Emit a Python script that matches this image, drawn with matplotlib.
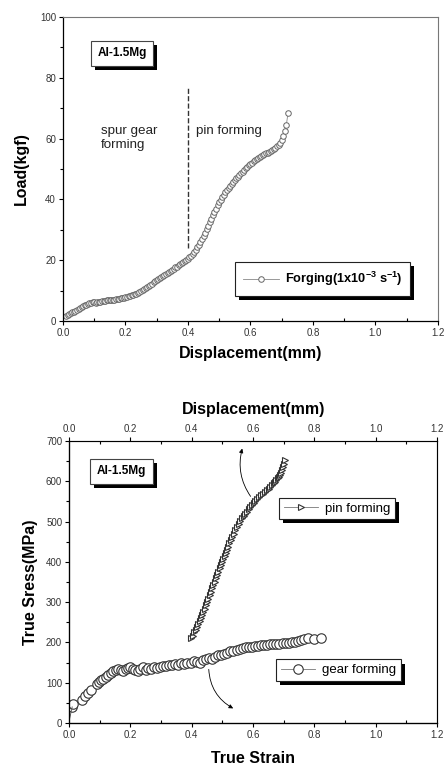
import matplotlib
matplotlib.use("Agg")
import matplotlib.pyplot as plt
import matplotlib.patheffects as pe
from matplotlib.ticker import MultipleLocator

plt.rcParams['font.family'] = ['Liberation Sans', 'DejaVu Sans']
plt.rcParams['mathtext.fontset'] = 'custom'
plt.rcParams['mathtext.bf'] = 'Liberation Sans:bold'
plt.rcParams['mathtext.rm'] = 'Liberation Sans'

# top panel: load vs displacement
disp = [0.010, 0.015, 0.020, 0.025, 0.030, 0.035, 0.040, 0.045, 0.050, 0.055,
        0.060, 0.065, 0.070, 0.075, 0.080, 0.085, 0.090, 0.095, 0.100, 0.105,
        0.110, 0.115, 0.120, 0.125, 0.130, 0.135, 0.140, 0.145, 0.150, 0.155,
        0.160, 0.165, 0.170, 0.175, 0.180, 0.185, 0.190, 0.195, 0.200, 0.205,
        0.210, 0.215, 0.220, 0.225, 0.230, 0.235, 0.240, 0.245, 0.250, 0.255,
        0.260, 0.265, 0.270, 0.275, 0.280, 0.285, 0.290, 0.295, 0.300, 0.305,
        0.310, 0.315, 0.320, 0.325, 0.330, 0.335, 0.340, 0.345, 0.350, 0.355,
        0.360, 0.365, 0.370, 0.375, 0.380, 0.385, 0.390, 0.395, 0.400, 0.405,
        0.410, 0.415, 0.420, 0.425, 0.430, 0.435, 0.440, 0.445, 0.450, 0.455,
        0.460, 0.465, 0.470, 0.475, 0.480, 0.485, 0.490, 0.495, 0.500, 0.505,
        0.510, 0.515, 0.520, 0.525, 0.530, 0.535, 0.540, 0.545, 0.550, 0.555,
        0.560, 0.565, 0.570, 0.575, 0.580, 0.585, 0.590, 0.595, 0.600, 0.605,
        0.610, 0.615, 0.620, 0.625, 0.630, 0.635, 0.640, 0.645, 0.650, 0.655,
        0.660, 0.665, 0.670, 0.675, 0.680, 0.685, 0.690, 0.695, 0.700, 0.705,
        0.710, 0.715, 0.720]
load = [1.8, 2.0, 2.3, 2.6, 2.9, 3.1, 3.4, 3.7, 4.0, 4.3,
        4.6, 4.9, 5.1, 5.4, 5.6, 5.8, 6.0, 6.2, 6.2, 6.0,
        6.1, 6.2, 6.3, 6.5, 6.6, 6.7, 6.8, 6.9, 7.0, 7.0,
        7.0, 7.0, 7.1, 7.2, 7.3, 7.4, 7.5, 7.6, 7.8, 7.9,
        8.1, 8.2, 8.4, 8.6, 8.8, 9.0, 9.3, 9.6, 9.9, 10.2,
        10.6, 10.9, 11.3, 11.6, 12.0, 12.3, 12.7, 13.0, 13.4, 13.7,
        14.1, 14.4, 14.8, 15.1, 15.5, 15.8, 16.2, 16.5, 16.9, 17.2,
        17.6, 17.9, 18.3, 18.6, 19.0, 19.3, 19.7, 20.1, 20.5, 21.0,
        21.5, 22.1, 22.7, 23.4, 24.2, 25.1, 26.0, 27.0, 28.0, 29.1,
        30.2, 31.3, 32.5, 33.6, 34.8, 35.9, 37.0, 38.0, 39.0, 39.9,
        40.7, 41.5, 42.3, 43.0, 43.7, 44.4, 45.1, 45.7, 46.3, 46.9,
        47.5, 48.1, 48.6, 49.1, 49.7, 50.2, 50.7, 51.2, 51.6, 52.0,
        52.5, 52.9, 53.3, 53.7, 54.1, 54.4, 54.7, 54.9, 55.1, 55.3,
        55.5, 55.8, 56.1, 56.5, 56.9, 57.4, 57.9, 58.6, 59.5, 61.0,
        62.5, 64.5, 68.3]

# bottom panel: true stress vs true strain
pin_strain = [0.398, 0.403, 0.408, 0.413, 0.417, 0.421, 0.426, 0.430, 0.434, 0.438,
              0.442, 0.446, 0.450, 0.454, 0.458, 0.462, 0.466, 0.470, 0.475, 0.479,
              0.483, 0.487, 0.491, 0.495, 0.499, 0.503, 0.507, 0.511, 0.515, 0.519,
              0.523, 0.528, 0.532, 0.537, 0.542, 0.548, 0.553, 0.558, 0.564, 0.569,
              0.575, 0.580, 0.586, 0.591, 0.597, 0.602, 0.607, 0.613, 0.618, 0.625,
              0.632, 0.639, 0.646, 0.651, 0.656, 0.662, 0.667, 0.671, 0.676, 0.680,
              0.684, 0.688, 0.692, 0.695, 0.699, 0.702, 0.705]
pin_stress = [210, 217, 225, 232, 239, 246, 254, 261, 268, 276,
              284, 293, 301, 309, 317, 326, 334, 342, 350, 359,
              367, 375, 384, 392, 400, 407, 414, 422, 429, 437,
              446, 454, 462, 470, 478, 487, 495, 501, 508, 514,
              520, 525, 531, 536, 541, 546, 551, 556, 561, 565,
              569, 574, 578, 582, 586, 591, 595, 599, 603, 607,
              611, 615, 621, 627, 635, 644, 654]

gear_strain = [0.010, 0.014, 0.042, 0.052, 0.060, 0.072, 0.092, 0.098, 0.105, 0.112,
               0.120, 0.128, 0.136, 0.144, 0.152, 0.160, 0.168, 0.176, 0.184, 0.192,
               0.200, 0.208, 0.216, 0.224, 0.232, 0.240, 0.250, 0.258, 0.266, 0.276,
               0.286, 0.296, 0.306, 0.316, 0.326, 0.336, 0.346, 0.356, 0.366, 0.376,
               0.386, 0.396, 0.406, 0.416, 0.426, 0.436, 0.446, 0.456, 0.466, 0.476,
               0.486, 0.496, 0.506, 0.516, 0.526, 0.536, 0.546, 0.556, 0.566, 0.576,
               0.586, 0.596, 0.606, 0.616, 0.626, 0.636, 0.646, 0.656, 0.666, 0.676,
               0.686, 0.696, 0.706, 0.716, 0.726, 0.736, 0.746, 0.756, 0.766, 0.780,
               0.798, 0.820]
gear_stress = [40, 48, 58, 66, 74, 81, 97, 103, 106, 110,
               115, 120, 125, 128, 131, 133, 131, 128, 133, 136,
               139, 135, 131, 128, 134, 138, 132, 137, 133, 139,
               136, 140, 142, 141, 144, 143, 146, 145, 148, 146,
               150, 148, 154, 152, 150, 156, 158, 162, 160, 165,
               168, 170, 172, 175, 178, 180, 181, 184, 186, 188,
               189, 188, 190, 191, 193, 194, 194, 195, 196, 196,
               197, 198, 198, 199, 200, 201, 203, 205, 208, 212,
               208, 212]

x_ticks = [0.0, 0.2, 0.4, 0.6, 0.8, 1.0, 1.2]
shadow = [pe.SimplePatchShadow(offset=(3, -3), shadow_rgbFace='k', alpha=1), pe.Normal()]

fig = plt.figure(figsize=(4.46, 7.69), dpi=100)


def style_axis(ax, ymajor, yminor):
    ax.set_xlim(0, 1.2)
    ax.set_xticks(x_ticks)
    ax.xaxis.set_minor_locator(MultipleLocator(0.1))
    ax.yaxis.set_major_locator(MultipleLocator(ymajor))
    ax.yaxis.set_minor_locator(MultipleLocator(yminor))
    ax.tick_params(which='major', direction='out', length=3, width=0.8,
                   labelsize=7, labelcolor='#333333', pad=2)
    ax.tick_params(axis='x', which='minor', direction='in', length=2.5, width=0.8)
    ax.tick_params(axis='y', which='minor', direction='out', length=2, width=0.8)
    for s in ['top', 'right']:
        ax.spines[s].set_color('#777777')
    for s in ['left', 'bottom']:
        ax.spines[s].set_linewidth(0.9)


def label_box(ax, x, y, fs):
    t = ax.text(x, y, 'Al-1.5Mg', transform=ax.transAxes, fontsize=fs,
                fontweight='bold', ha='center', va='center',
                bbox=dict(boxstyle='square,pad=0.55', fc='white', ec='#444444', lw=0.8))
    t.get_bbox_patch().set_path_effects(shadow)


# ---- top panel
ax1 = fig.add_axes([0.141, 0.5826, 0.841, 0.3953])
ax1.plot(disp, load, '-', color='#888888', lw=0.6, marker='o', ms=4.0,
         mfc='white', mec='#666666', mew=0.7, label=r'Forging(1x10$^{\mathbf{-3}}$ s$^{\mathbf{-1}}$)')
ax1.set_ylim(0, 100)
style_axis(ax1, 20, 10)
ax1.plot([0.4, 0.4], [24, 76.5], '--', color='#333333', lw=1.0)
ax1.text(0.122, 64.5, 'spur gear\nforming', fontsize=9.6, va='top', ha='left', color='#222222')
ax1.text(0.427, 64.5, 'pin forming', fontsize=9.6, va='top', ha='left', color='#222222')
ax1.set_xlabel('Displacement(mm)', fontsize=11.5, fontweight='bold', labelpad=6)
ax1.set_ylabel('Load(kgf)', fontsize=11.5, fontweight='bold', labelpad=8)
label_box(ax1, 0.158, 0.88, 8.5)
leg1 = ax1.legend(loc='upper left', bbox_to_anchor=(0.442, 0.214), fancybox=False,
                  edgecolor='#222222', framealpha=1, handlelength=2.8,
                  prop={'weight': 'bold', 'size': 9.2}, borderpad=0.6, handletextpad=0.5)
leg1.get_frame().set_linewidth(0.8)
leg1.get_frame().set_path_effects(shadow)

# ---- bottom panel
ax2 = fig.add_axes([0.155, 0.0598, 0.825, 0.3667])
ln_pin, = ax2.plot(pin_strain, pin_stress, '-', color='#777777', lw=0.6, marker='>', ms=5,
                   mfc='white', mec='#333333', mew=0.8, label='pin forming')
ln_gear, = ax2.plot(gear_strain, gear_stress, '-', color='#777777', lw=0.6, marker='o', ms=6.8,
                    mfc='white', mec='#333333', mew=0.8, label='gear forming')
ax2.plot([0.0, 0.010], [5, 40], '-', color='#555555', lw=0.6)
ax2.set_ylim(0, 700)
style_axis(ax2, 100, 50)
ax2.set_xlabel('True Strain', fontsize=11.5, fontweight='bold', labelpad=8)
ax2.set_ylabel('True Sress(MPa)', fontsize=11.5, fontweight='bold', labelpad=6)
label_box(ax2, 0.142, 0.893, 8.5)

axt = ax2.twiny()
axt.set_xlim(0, 1.2)
axt.set_xticks(x_ticks)
axt.xaxis.set_minor_locator(MultipleLocator(0.1))
axt.tick_params(which='major', direction='out', length=3, width=0.8,
                labelsize=7, labelcolor='#333333', pad=2)
axt.tick_params(which='minor', direction='in', length=2.5, width=0.8)
axt.spines['top'].set_color('k')
axt.set_xlabel('Displacement(mm)', fontsize=11.5, fontweight='bold', labelpad=7)

leg_pin = ax2.legend(handles=[ln_pin], loc='upper left', bbox_to_anchor=(0.553, 0.822),
                     fancybox=False, edgecolor='#222222', framealpha=1, handlelength=2.6,
                     fontsize=9.5, borderpad=0.35, handletextpad=0.5)
leg_pin.get_frame().set_linewidth(0.8)
leg_pin.get_frame().set_path_effects(shadow)
ax2.add_artist(leg_pin)
leg_gear = ax2.legend(handles=[ln_gear], loc='upper left', bbox_to_anchor=(0.545, 0.249),
                      fancybox=False, edgecolor='#222222', framealpha=1, handlelength=2.6,
                      fontsize=9.5, borderpad=0.35, handletextpad=0.5)
leg_gear.get_frame().set_linewidth(0.8)
leg_gear.get_frame().set_path_effects(shadow)

# curved arrows pointing to the displacement axis / strain axis
ax2.annotate('', xy=(0.567, 688), xytext=(0.597, 557),
             arrowprops=dict(arrowstyle='-|>', color='k', lw=0.6, mutation_scale=6,
                             connectionstyle='arc3,rad=-0.25'))
ax2.annotate('', xy=(0.543, 33), xytext=(0.455, 140),
             arrowprops=dict(arrowstyle='-|>', color='k', lw=0.6, mutation_scale=6,
                             connectionstyle='arc3,rad=0.3'))

fig.savefig('out.png', dpi=100)
